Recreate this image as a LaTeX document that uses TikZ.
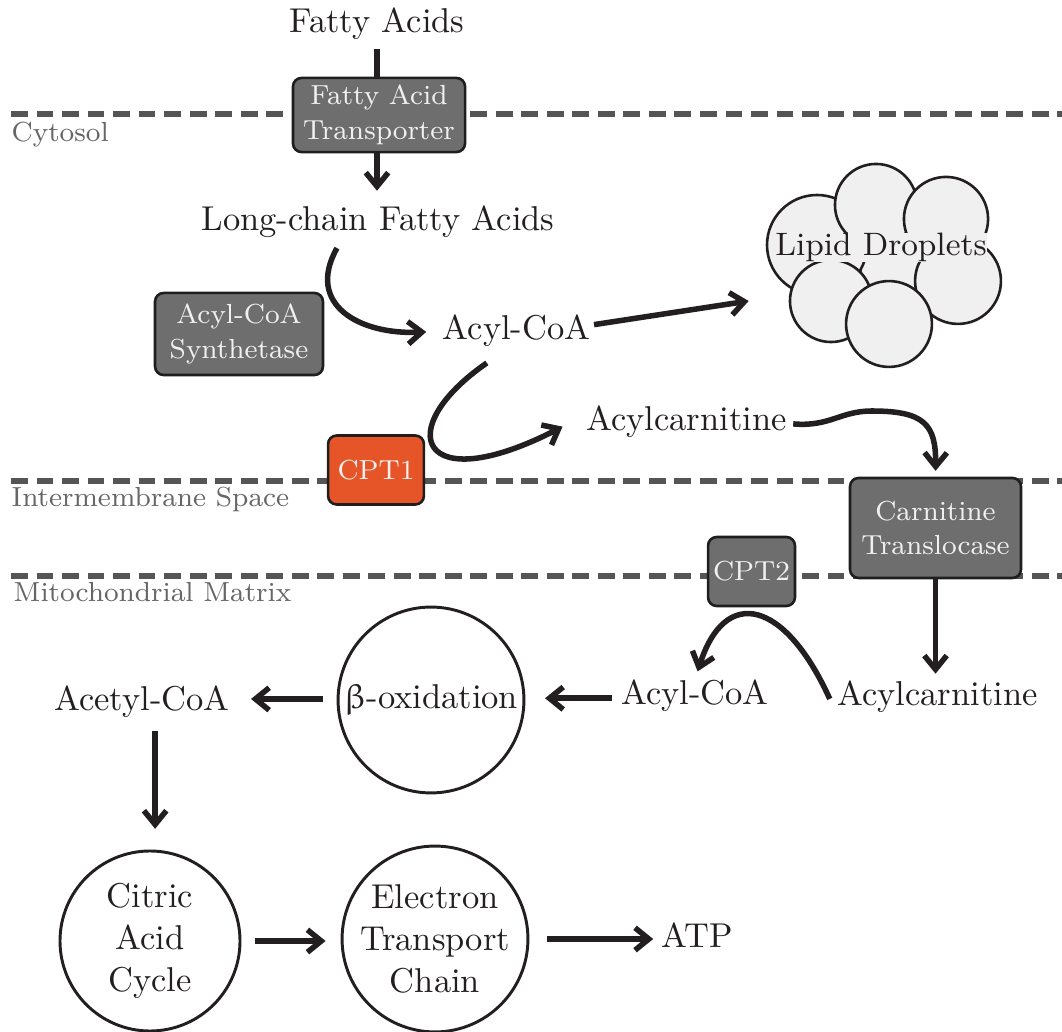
\documentclass[tikz,border=0pt]{standalone}
\usepackage{upgreek}
\usetikzlibrary{arrows.meta}
\definecolor{ink}{HTML}{231F20}
\definecolor{boxgray}{HTML}{6E6E6E}
\definecolor{boxedge}{HTML}{1E1E1E}
\definecolor{boxtext}{HTML}{F0F0F0}
\definecolor{cptorange}{HTML}{E65527}
\definecolor{memgray}{HTML}{555555}
\definecolor{labgray}{HTML}{666666}
\definecolor{dropfill}{HTML}{EFF0EF}
\begin{document}
\begin{tikzpicture}[x=0.29pt,y=-0.29pt,
  every node/.style={text=ink},
  txt/.style={inner sep=0pt, font=\fontsize{10}{12}\selectfont, anchor=base},
  memlabel/.style={inner sep=0pt, anchor=base west, text=labgray, font=\fontsize{8}{10}\selectfont},
  membrane/.style={draw=memgray, line width=1.75pt, dash pattern=on 4.9pt off 2.5pt},
  enzyme/.style={draw=boxedge, fill=boxgray, line width=0.75pt, rounded corners=2.5pt, text=boxtext, font=\fontsize{8}{10}\selectfont, align=center, inner sep=0pt},
  proc/.style={circle, draw=ink, line width=0.85pt, inner sep=0pt, align=center, font=\fontsize{10}{12.2}\selectfont},
  drop/.style={circle, draw=ink, fill=dropfill, line width=0.75pt, inner sep=0pt},
  link/.style={draw=ink, line width=1.6pt},
  arr/.style={draw=ink, line width=1.6pt, -{Straight Barb[length=4pt,width=6.5pt]}},
]
\useasboundingbox (0,0) rectangle (1062,1032);

% membranes
\draw[membrane] (11,114) -- (1062,114);
\draw[membrane] (11,481) -- (1062,481);
\draw[membrane] (11,576) -- (1062,576);
\node[memlabel] (lcyt) at (11,142) {Cytosol};
\node[memlabel] (lims) at (11,507) {Intermembrane Space};
\node[memlabel] (lmm) at (13,602) {Mitochondrial Matrix};

% text nodes
\node[txt] (fa) at (377,33) {Fatty Acids};
\node[txt] (lcfa) at (378,231) {Long-chain Fatty Acids};
\node[txt] (acoa) at (516.5,340) {Acyl-CoA};
\node[txt] (ac1) at (686.5,431) {Acylcarnitine};
\node[txt] (ac2) at (937.5,706) {Acylcarnitine};
\node[txt] (acoa2) at (695,705) {Acyl-CoA};
\node[txt] (acetyl) at (142,711) {Acetyl-CoA};
\node[txt] (atp) at (697.5,947) {ATP};

% process circles
\node[proc, minimum size=53.9pt] (beta) at (431,700) {$\upbeta$-oxidation};
\node[proc, minimum size=52.2pt] (citric) at (150,941) {Citric\\Acid\\Cycle};
\node[proc, minimum size=53.9pt] (etc) at (435,939) {Electron\\Transport\\Chain};

% lipid droplets
\node[drop, minimum size=23.2pt] (dc) at (900,265) {};
\node[drop, minimum size=29pt] (dl) at (817,245) {};
\node[drop, minimum size=23.8pt] (dt) at (876,205) {};
\node[drop, minimum size=24.4pt] (drt) at (946,219) {};
\node[drop, minimum size=24.9pt] (drb) at (958,281) {};
\node[drop, minimum size=23.8pt] (dbl) at (831,301) {};
\node[drop, minimum size=24.9pt] (db) at (889,324) {};
\node[txt, fill=dropfill, font=\fontsize{9.4}{11}\selectfont] (lipid) at (881,256) {Lipid Droplets};

% enzyme boxes
\node[enzyme, minimum width=49.9pt, minimum height=21.5pt] (fat) at (379,115) {Fatty Acid\\Transporter};
\node[enzyme, minimum width=48.7pt, minimum height=23.8pt] (acs) at (239,334) {Acyl-CoA\\Synthetase};
\node[enzyme, fill=cptorange, minimum width=27.8pt, minimum height=20pt] (cpt1) at (376,470) {CPT1};
\node[enzyme, minimum width=49.6pt, minimum height=29pt] (tl) at (935.5,528) {Carnitine\\Translocase};
\node[enzyme, minimum width=25.2pt, minimum height=20pt] (cpt2) at (751.5,571.5) {CPT2};

% connectors
\draw[link, shorten <=2.4pt] (fa.south) -- (fa.south |- fat.north);
\draw[arr, shorten >=4.3pt] (fat.south -| fa.south) -- (fa.south |- lcfa.north);

\draw[arr, shorten >=4.6pt] ([xshift=-11.9pt,yshift=-2.7pt]lcfa.south) .. controls (305,305) and (360,335) .. (acoa.west);

\draw[arr] ([xshift=0.9pt,yshift=1.9pt]acoa.east) -- ([xshift=-11.6pt]dbl.west);

\draw[arr] ([xshift=-8.6pt,yshift=-4.4pt]acoa.south) .. controls (390,430) and (420,500) .. ([xshift=-6.7pt,yshift=-1.3pt]ac1.west);

\draw[arr, shorten >=1.7pt] ([xshift=1.7pt,yshift=-0.5pt]ac1.east) .. controls (830,427) and (840,411) .. (872,411) .. controls (925,411) and (936,425) .. (tl.north);

\draw[arr, shorten >=2pt] (tl.south) -- (tl.south |- ac2.north);

\draw[arr, shorten >=2.5pt] ([xshift=-2pt,yshift=-0.5pt]ac2.west) .. controls (785,600) and (725,585) .. (acoa2.north);

\coordinate (k1) at ([yshift=-0.6pt]acoa2.west);
\draw[arr, shorten <=2.6pt, shorten >=5.7pt] (k1) -- (k1 -| beta.east);

\coordinate (k2) at ([yshift=0.3pt]beta.west);
\draw[arr, shorten <=4pt, shorten >=6pt] (k2) -- (k2 -| acetyl.east);

\coordinate (k3) at ([xshift=3.8pt]acetyl.south);
\draw[arr, shorten <=3.5pt, shorten >=6pt] (k3) -- (k3 |- citric.north);

\draw[arr, shorten <=3.9pt, shorten >=4.35pt] (citric.east) -- (citric.east -| etc.west);
\draw[arr, shorten <=5.2pt, shorten >=2.3pt] (etc.east) -- (etc.east -| atp.west);
\end{tikzpicture}
\end{document}
